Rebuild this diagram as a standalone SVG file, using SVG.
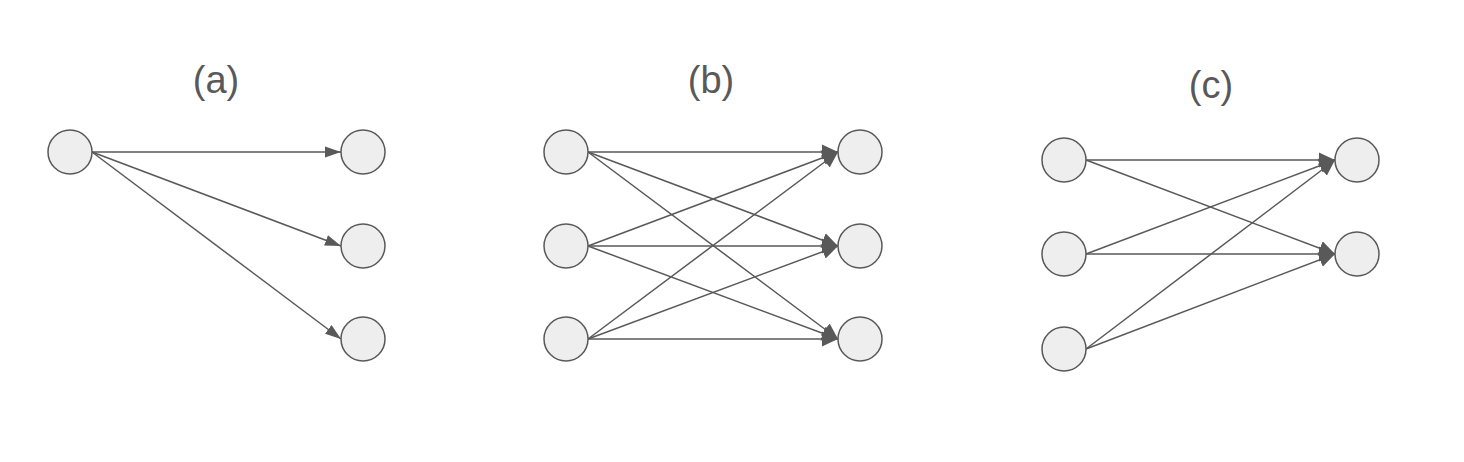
<svg xmlns="http://www.w3.org/2000/svg" width="1464" height="462" viewBox="0 0 1464 462">
<style>
.n{fill:#eeeeee;stroke:#595959;stroke-width:1.5}
.e{stroke:#595959;stroke-width:1.5;fill:none}
.ea{marker-end:url(#ah1)}
.eb{marker-end:url(#ah2)}
.t{font-family:"Liberation Sans",Arial,sans-serif;font-size:38px;fill:#595959;text-anchor:middle}
</style>
<defs>
<marker id="ah1" markerUnits="userSpaceOnUse" markerWidth="17" markerHeight="12" refX="16" refY="6" orient="auto"><path d="M0,0.5 L16,6 L0,11.5 Z" fill="#595959"/></marker>
<marker id="ah2" markerUnits="userSpaceOnUse" markerWidth="17" markerHeight="16" refX="16" refY="8" orient="auto"><path d="M0,0.5 L16,8 L0,15.5 Z" fill="#595959"/></marker>
</defs>
<rect width="1464" height="462" fill="#ffffff"/>
<text class="t" x="216" y="93">(a)</text>
<text class="t" x="711" y="93">(b)</text>
<text class="t" x="1211" y="98">(c)</text>
<g id="connectors">
<line class="e ea" x1="92" y1="152" x2="341" y2="152"/>
<line class="e ea" x1="92" y1="152" x2="341" y2="246"/>
<line class="e ea" x1="92" y1="152" x2="341" y2="339"/>
<line class="e eb" x1="588" y1="152" x2="838" y2="152"/>
<line class="e eb" x1="588" y1="152" x2="838" y2="246"/>
<line class="e eb" x1="588" y1="152" x2="838" y2="339"/>
<line class="e eb" x1="588" y1="246" x2="838" y2="152"/>
<line class="e eb" x1="588" y1="246" x2="838" y2="246"/>
<line class="e eb" x1="588" y1="246" x2="838" y2="339"/>
<line class="e eb" x1="588" y1="339" x2="838" y2="152"/>
<line class="e eb" x1="588" y1="339" x2="838" y2="246"/>
<line class="e eb" x1="588" y1="339" x2="838" y2="339"/>
<line class="e eb" x1="1086" y1="160" x2="1335" y2="160"/>
<line class="e eb" x1="1086" y1="160" x2="1335" y2="254"/>
<line class="e eb" x1="1086" y1="254" x2="1335" y2="160"/>
<line class="e eb" x1="1086" y1="254" x2="1335" y2="254"/>
<line class="e eb" x1="1086" y1="349" x2="1335" y2="160"/>
<line class="e eb" x1="1086" y1="349" x2="1335" y2="254"/>
</g>
<g id="a_in"><circle class="n" cx="70" cy="152" r="22"/></g>
<g id="a_out1"><circle class="n" cx="363" cy="152" r="22"/></g>
<g id="a_out2"><circle class="n" cx="363" cy="246" r="22"/></g>
<g id="a_out3"><circle class="n" cx="363" cy="339" r="22"/></g>
<g id="b_in1"><circle class="n" cx="566" cy="152" r="22"/></g>
<g id="b_in2"><circle class="n" cx="566" cy="246" r="22"/></g>
<g id="b_in3"><circle class="n" cx="566" cy="339" r="22"/></g>
<g id="b_out1"><circle class="n" cx="860" cy="152" r="22"/></g>
<g id="b_out2"><circle class="n" cx="860" cy="246" r="22"/></g>
<g id="b_out3"><circle class="n" cx="860" cy="339" r="22"/></g>
<g id="c_in1"><circle class="n" cx="1064" cy="160" r="22"/></g>
<g id="c_in2"><circle class="n" cx="1064" cy="254" r="22"/></g>
<g id="c_in3"><circle class="n" cx="1064" cy="349" r="22"/></g>
<g id="c_out1"><circle class="n" cx="1357" cy="160" r="22"/></g>
<g id="c_out2"><circle class="n" cx="1357" cy="254" r="22"/></g>
</svg>
